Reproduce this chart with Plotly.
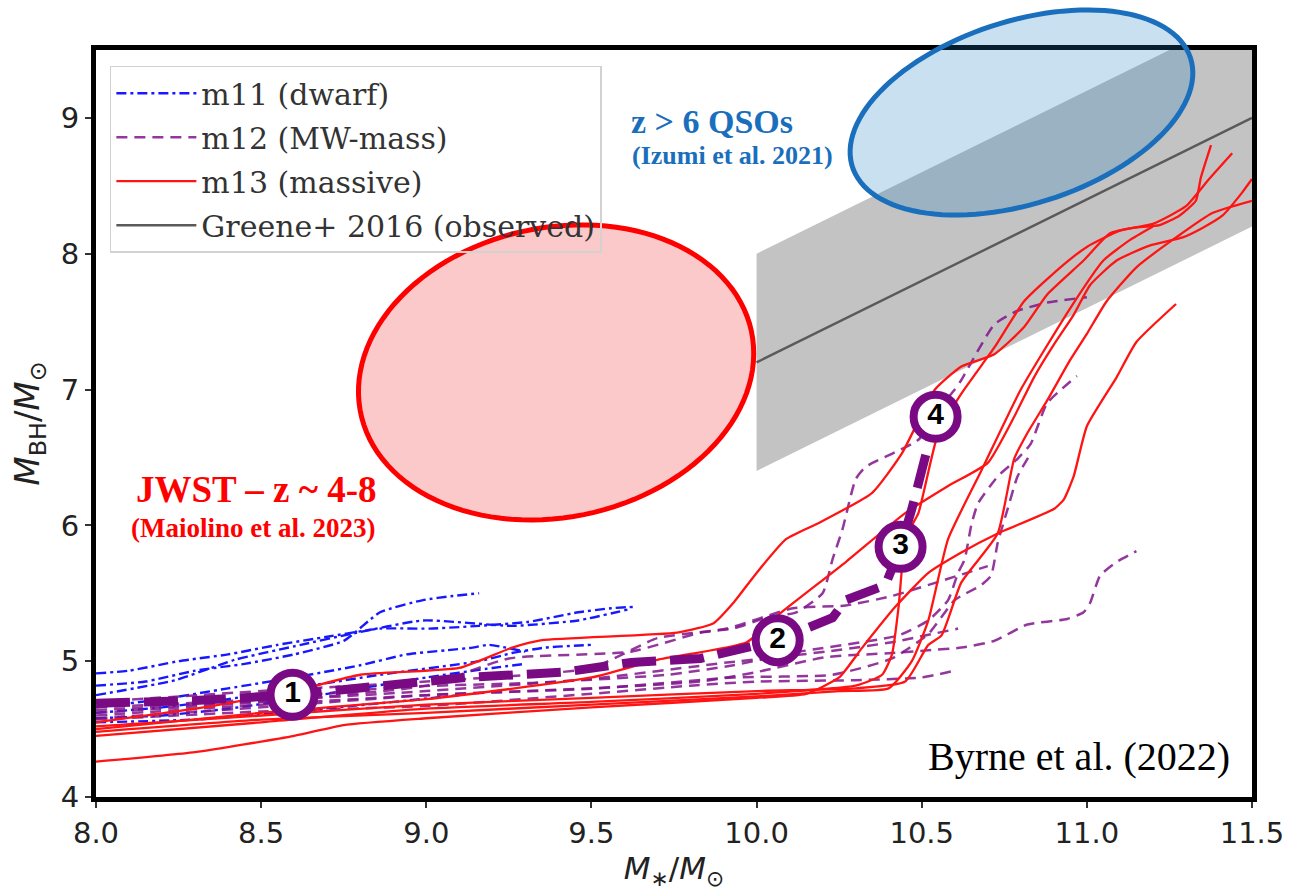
import numpy as np
import plotly.graph_objects as go

# ---------------------------------------------------------------- axes
X_MIN, X_MAX = 8.0, 11.5
Y_MIN, Y_MAX = 4.0, 9.5
x_ticks = [8.0, 8.5, 9.0, 9.5, 10.0, 10.5, 11.0, 11.5]
y_ticks = [4, 5, 6, 7, 8, 9]

# ---------------------------------------------------------------- m11 (dwarf) tracks
m11_tracks = [
    ([8.0, 8.1, 8.25, 8.4, 8.55, 8.7, 8.86, 9.01, 9.16, 9.31, 9.46, 9.56, 9.63],
     [4.91, 4.93, 5.0, 5.05, 5.12, 5.18, 5.24, 5.24, 5.26, 5.29, 5.36, 5.39, 5.40]),
    ([8.0, 8.15, 8.3, 8.45, 8.6, 8.75, 8.86, 8.99, 9.08, 9.16],
     [4.82, 4.85, 4.93, 4.98, 5.05, 5.15, 5.36, 5.45, 5.48, 5.50]),
    ([8.0, 8.24, 8.42, 8.62, 8.77, 8.99, 9.26, 9.46, 9.61],
     [4.75, 4.86, 5.01, 5.12, 5.20, 5.30, 5.26, 5.30, 5.38]),
    ([8.0, 8.2, 8.4, 8.6, 8.8, 8.94, 9.06, 9.14, 9.19, 9.30],
     [4.66, 4.72, 4.80, 4.88, 4.97, 5.05, 5.08, 5.10, 5.12, 5.07]),
    ([8.0, 8.2, 8.4, 8.6, 8.86, 9.16, 9.26, 9.36, 9.5],
     [4.62, 4.66, 4.72, 4.80, 4.90, 5.00, 5.06, 5.10, 5.12]),
    ([8.0, 8.2, 8.4, 8.6, 8.8, 9.0, 9.2, 9.3],
     [4.58, 4.60, 4.65, 4.72, 4.80, 4.88, 4.95, 4.98]),
    ([8.0, 8.3, 8.6, 8.9, 9.1],
     [4.55, 4.57, 4.63, 4.70, 4.75]),
]

# ---------------------------------------------------------------- m12 (MW-mass) tracks
m12_tracks = [
    ([8.0, 8.5, 9.0, 9.25, 9.62, 9.83, 9.93, 10.03, 10.12, 10.2, 10.23, 10.26, 10.30,
      10.33, 10.49, 10.55, 10.6, 10.62, 10.72, 10.79, 10.88, 11.0],
     [4.62, 4.70, 4.82, 5.02, 5.07, 5.21, 5.24, 5.32, 5.36, 5.50, 5.75, 5.97, 6.34,
      6.43, 6.63, 6.85, 7.0, 7.07, 7.48, 7.58, 7.64, 7.68]),
    ([8.0, 8.5, 9.0, 9.5, 9.83, 10.0, 10.21, 10.41, 10.52, 10.62, 10.72, 10.82, 10.94,
      10.99, 11.01, 11.04, 11.09, 11.15],
     [4.58, 4.66, 4.75, 4.80, 4.85, 4.92, 5.03, 5.06, 5.08, 5.10, 5.15, 5.27, 5.31,
      5.36, 5.43, 5.63, 5.73, 5.81]),
    ([8.0, 8.5, 8.92, 9.32, 9.73, 9.93, 10.13, 10.43, 10.52, 10.58, 10.61, 10.63, 10.65,
      10.67, 10.73, 10.79, 10.83, 10.88, 10.97],
     [4.66, 4.72, 4.81, 4.84, 4.90, 4.97, 5.07, 5.19, 5.30, 5.45, 5.65, 5.75, 6.0,
      6.16, 6.36, 6.49, 6.60, 6.90, 7.10]),
    ([8.0, 8.5, 9.0, 9.52, 9.93, 10.23, 10.41, 10.52, 10.60, 10.68, 10.71, 10.73, 10.76,
      10.79, 10.83],
     [4.60, 4.68, 4.75, 4.80, 4.88, 4.90, 5.02, 5.20, 5.45, 5.56, 5.63, 5.87, 6.12,
      6.36, 6.53]),
    ([8.0, 8.5, 9.0, 9.5, 9.70, 9.91, 10.11, 10.27, 10.41, 10.61, 10.70],
     [4.70, 4.78, 4.85, 4.95, 5.17, 5.24, 5.39, 5.41, 5.48, 5.63, 5.70]),
    ([8.0, 8.5, 9.0, 9.5, 9.8, 10.0, 10.3, 10.5, 10.6],
     [4.57, 4.63, 4.67, 4.76, 4.82, 4.85, 4.86, 4.88, 4.93]),
    ([8.0, 8.6, 9.0, 9.5, 9.91, 10.21, 10.41, 10.61],
     [4.64, 4.72, 4.78, 4.87, 4.99, 5.07, 5.14, 5.24]),
]

# ---------------------------------------------------------------- m13 (massive) tracks
m13_tracks = [
    ([8.0, 8.3, 8.6, 8.8, 9.1, 9.26, 9.35, 9.76, 9.87, 9.93, 10.0, 10.09, 10.19, 10.35,
      10.44, 10.54, 10.62, 10.72, 10.81, 10.88, 10.99, 11.07, 11.14, 11.22, 11.28, 11.33,
      11.345, 11.376],
     [4.55, 4.65, 4.78, 4.90, 4.95, 5.10, 5.155, 5.21, 5.28, 5.43, 5.65, 5.90, 6.02, 6.24,
      6.53, 7.0, 7.17, 7.26, 7.46, 7.70, 7.95, 8.15, 8.19, 8.21, 8.28, 8.39, 8.56, 8.80]),
    ([8.0, 8.5, 9.0, 9.5, 9.7, 9.97, 10.07, 10.27, 10.45, 10.58, 10.70, 10.78, 10.84,
      10.90, 10.96, 11.01, 11.09, 11.19, 11.29, 11.35, 11.41, 11.47, 11.5],
     [4.50, 4.62, 4.72, 4.88, 5.01, 5.14, 5.35, 5.73, 6.09, 6.29, 6.46, 6.80, 7.09,
      7.33, 7.55, 7.77, 7.95, 8.06, 8.12, 8.19, 8.28, 8.45, 8.55]),
    ([8.0, 8.5, 9.0, 9.5, 10.0, 10.3, 10.38, 10.41, 10.43, 10.45, 10.47, 10.49, 10.55,
      10.62, 10.72, 10.81, 10.92, 11.0, 11.1, 11.2, 11.3, 11.37, 11.44],
     [4.45, 4.55, 4.65, 4.70, 4.76, 4.82, 4.90, 5.05, 5.40, 5.90, 6.0, 6.09, 6.68,
      6.97, 7.31, 7.65, 7.90, 8.05, 8.17, 8.22, 8.35, 8.55, 8.74]),
    ([8.0, 8.3, 8.6, 8.75, 9.0, 9.5, 10.0, 10.15, 10.25, 10.32, 10.42, 10.52, 10.62,
      10.73, 10.90, 10.93, 10.96, 11.0, 11.09, 11.15, 11.27],
     [4.26, 4.33, 4.45, 4.53, 4.58, 4.66, 4.73, 4.76, 4.88, 5.10, 5.40, 5.65, 5.80,
      5.94, 6.12, 6.19, 6.36, 6.73, 7.09, 7.35, 7.63]),
    ([8.0, 8.5, 9.0, 9.5, 10.0, 10.3, 10.45, 10.52, 10.56, 10.62, 10.73, 10.78, 10.82,
      10.88, 10.95, 11.0, 11.06, 11.15, 11.27, 11.38, 11.5],
     [4.52, 4.60, 4.68, 4.73, 4.78, 4.80, 4.85, 5.12, 5.19, 5.58, 5.94, 6.49, 6.68,
      6.92, 7.22, 7.41, 7.65, 7.90, 8.12, 8.30, 8.39]),
    ([8.0, 8.5, 9.0, 9.5, 10.0, 10.25, 10.4, 10.47, 10.52, 10.58, 10.68, 10.8, 10.95,
      11.05, 11.13, 11.2],
     [4.48, 4.57, 4.62, 4.68, 4.74, 4.78, 4.80, 5.0, 5.3, 5.9, 6.4, 7.0, 7.6,
      7.95, 8.1, 8.2]),
]

# ---------------------------------------------------------------- m12 median track + milestones
median_x = [8.0, 8.3, 8.595, 8.92, 9.12, 9.42, 9.62, 9.83, 10.064, 10.23, 10.27, 10.39,
            10.436, 10.47, 10.50, 10.542]
median_y = [4.69, 4.71, 4.753, 4.83, 4.88, 4.92, 4.99, 5.02, 5.155, 5.32, 5.45, 5.56,
            5.842, 6.12, 6.38, 6.80]
milestone_x = [8.595, 10.064, 10.436, 10.542]
milestone_y = [4.753, 5.155, 5.842, 6.80]
milestone_labels = ["1", "2", "3", "4"]

# ---------------------------------------------------------------- Greene+ 2016 relation
greene_x = [10.0, 11.5]
greene_y = [7.2, 9.0]
greene_scatter = 0.8

# ---------------------------------------------------------------- observed regions
# centre (data units), semi-axes (screen px) and tilt (deg)
regions = {
    "jwst": dict(xc=9.393, yc=7.126, a=200, b=146, tilt=12,
                 fill="rgba(245,120,120,0.40)", edge="#ff0000"),
    "qso": dict(xc=10.802, yc=9.040, a=178, b=92, tilt=18,
                fill="rgba(30,125,195,0.24)", edge="#1a6fbd"),
}

# ---------------------------------------------------------------- layout geometry
W, H = 1296, 893
M_L, M_R, M_T, M_B = 96, 42, 50, 90
PW, PH = W - M_L - M_R, H - M_T - M_B

RED = "#ff1414"
BLUE = "#1818ff"
PURPLE = "rgba(128,20,140,0.85)"
DARK_PURPLE = "#7a0a84"

fig = go.Figure()

# observed scatter band
fig.add_trace(go.Scatter(
    x=greene_x + greene_x[::-1],
    y=[v - greene_scatter for v in greene_y] + [v + greene_scatter for v in greene_y[::-1]],
    fill="toself", fillcolor="#c3c3c3", line=dict(width=0),
    mode="lines", showlegend=False, hoverinfo="skip"))


def add_family(tracks, name, color, dash, width, group):
    for i, (xs, ys) in enumerate(tracks):
        fig.add_trace(go.Scatter(
            x=xs, y=ys, mode="lines", name=name, legendgroup=group,
            showlegend=(i == 0),
            line=dict(color=color, width=width, dash=dash, shape="spline", smoothing=0.5)))


add_family(m11_tracks, "m11 (dwarf)", BLUE, "10px,4px,3px,4px", 2.4, "m11")
add_family(m12_tracks, "m12 (MW-mass)", PURPLE, "11px,7px", 2.5, "m12")
add_family(m13_tracks, "m13 (massive)", RED, "solid", 2.3, "m13")

fig.add_trace(go.Scatter(
    x=greene_x, y=greene_y, mode="lines", name="Greene+ 2016 (observed)",
    legendgroup="greene", line=dict(color="#5a5a5a", width=2.4)))

# median track of the m12 runs
fig.add_trace(go.Scatter(
    x=median_x, y=median_y, mode="lines", showlegend=False,
    line=dict(color=DARK_PURPLE, width=9, dash="34px,14px")))

# numbered milestones
fig.add_trace(go.Scatter(
    x=milestone_x, y=milestone_y, mode="markers+text", text=milestone_labels,
    textposition="middle center",
    textfont=dict(family="Liberation Sans, Arial", size=30, color="black", weight="bold"),
    marker=dict(size=44, color="white", line=dict(color=DARK_PURPLE, width=8)),
    showlegend=False, cliponaxis=False))


def ellipse_path(r, n=120):
    t = np.linspace(0, 2 * np.pi, n)
    th = np.deg2rad(r["tilt"])
    dx = r["a"] * np.cos(t) * np.cos(th) - r["b"] * np.sin(t) * np.sin(th)
    dy = r["a"] * np.cos(t) * np.sin(th) + r["b"] * np.sin(t) * np.cos(th)
    px = (r["xc"] - X_MIN) / (X_MAX - X_MIN) + dx / PW
    py = (r["yc"] - Y_MIN) / (Y_MAX - Y_MIN) + dy / PH
    pts = [f"{a:.5f},{b:.5f}" for a, b in zip(px, py)]
    return "M" + " L".join(pts) + " Z"


shapes = []
for r in regions.values():
    shapes.append(dict(type="path", path=ellipse_path(r), xref="paper", yref="paper",
                       fillcolor=r["fill"], line=dict(color=r["edge"], width=5),
                       layer="above"))

serif = "Liberation Serif, Times New Roman, serif"
annotations = [
    dict(text="<b>z > 6 QSOs</b>", x=9.614, y=8.974, xanchor="left", yanchor="middle",
         font=dict(family=serif, size=34, color="#1a6fbd")),
    dict(text="<b>(Izumi et al. 2021)</b>", x=9.617, y=8.72, xanchor="left", yanchor="middle",
         font=dict(family=serif, size=26, color="#1a6fbd")),
    dict(text="<b>JWST – z ~ 4-8</b>", x=8.487, y=6.264, xanchor="center", yanchor="middle",
         font=dict(family=serif, size=37, color="#ff0000")),
    dict(text="<b>(Maiolino et al. 2023)</b>", x=8.475, y=5.98, xanchor="center",
         yanchor="middle", font=dict(family=serif, size=27, color="#ff0000")),
    dict(text="Byrne et al. (2022)", x=11.44, y=4.30, xanchor="right", yanchor="middle",
         font=dict(family=serif, size=40, color="black")),
]
for a in annotations:
    a.update(xref="x", yref="y", showarrow=False)

axis_common = dict(showline=True, linecolor="black", linewidth=5, mirror=True,
                   ticks="outside", ticklen=6, tickwidth=1.5, tickcolor="#333",
                   showgrid=False, zeroline=False)

fig.update_layout(
    width=W, height=H,
    margin=dict(l=M_L, r=M_R, t=M_T, b=M_B),
    paper_bgcolor="white", plot_bgcolor="white",
    xaxis=dict(range=[X_MIN, X_MAX], tickvals=x_ticks,
               ticktext=[f"{v:.1f}" for v in x_ticks],
               tickfont=dict(family="DejaVu Sans", size=29, color="#222"),
               title=dict(text="<i>M</i><sub>∗</sub>/<i>M</i><sub>⊙</sub>",
                          font=dict(family="DejaVu Sans", size=31, color="#222"), standoff=10),
               **axis_common),
    yaxis=dict(range=[Y_MIN, Y_MAX], tickvals=y_ticks,
               tickfont=dict(family="DejaVu Sans", size=29, color="#222"),
               title=dict(text="<i>M</i><sub>BH</sub>/<i>M</i><sub>⊙</sub>",
                          font=dict(family="DejaVu Sans", size=34, color="#222"), standoff=12),
               **axis_common),
    legend=dict(x=0.012, y=0.979, xanchor="left", yanchor="top",
                bgcolor="rgba(255,255,255,0)", bordercolor="#d2d2d2", borderwidth=1.5,
                font=dict(family="DejaVu Serif", size=30, color="#333"),
                traceorder="grouped", tracegroupgap=2, itemwidth=80),
    shapes=shapes,
    annotations=annotations,
)

fig.write_html("out.html")
